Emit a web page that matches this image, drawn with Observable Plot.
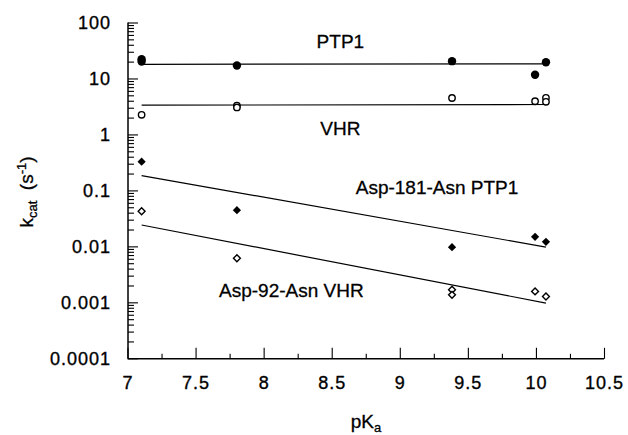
<!DOCTYPE html>
<html><head><meta charset="utf-8">
<script src="https://cdn.jsdelivr.net/npm/d3@7"></script>
<script src="https://cdn.jsdelivr.net/npm/@observablehq/plot@0.6"></script>
<style>
html,body{margin:0;padding:0;background:#fff;}
#chart svg{display:block;}
</style></head><body><div id="chart"></div>
<script>
// PTP1 (filled circles)
const ptp1X = [7.10, 7.10, 7.80, 9.38, 9.99, 10.07];
const ptp1K = [22.5, 20.5, 17.4, 20.8, 11.9, 19.9];
// VHR (open circles)
const vhrX = [7.10, 7.80, 7.80, 9.38, 9.99, 10.07, 10.07];
const vhrK = [2.29, 3.35, 3.10, 4.57, 4.0, 4.6, 3.9];
// Asp-181-Asn PTP1 (filled diamonds)
const d181X = [7.10, 7.80, 9.38, 9.99, 10.07];
const d181K = [0.333, 0.0452, 0.00986, 0.0151, 0.0123];
// Asp-92-Asn VHR (open diamonds)
const d92X = [7.10, 7.80, 9.38, 9.38, 9.99, 10.07];
const d92K = [0.0433, 0.00625, 0.00171, 0.00139, 0.00160, 0.00130];
// fitted lines (endpoints)
const fitNames = ["PTP1", "VHR", "Asp-181-Asn PTP1", "Asp-92-Asn VHR"];
const fitX1 = [7.10, 7.10, 7.10, 7.10];
const fitK1 = [18.3, 3.4, 0.188, 0.0246];
const fitX2 = [10.07, 10.07, 10.07, 10.07];
const fitK2 = [18.6, 3.5, 0.0099, 0.00099];
// in-plot labels
const labelText = ["PTP1", "VHR", "Asp-181-Asn PTP1", "Asp-92-Asn VHR"];
const labelX = [8.56, 8.56, 9.27, 8.20];
const labelK = [45.4, 1.29, 0.115, 0.00166];
// ticks
const xTicks = [7, 7.5, 8, 8.5, 9, 9.5, 10, 10.5];
const xTickLabels = ["7", "7.5", "8", "8.5", "9", "9.5", "10", "10.5"];
const xMinorTicks = [7.25, 7.75, 8.25, 8.75, 9.25, 9.75, 10.25];
const yTicks = [0.0001, 0.001, 0.01, 0.1, 1, 10, 100];
const yTickLabels = ["0.0001", "0.001", "0.01", "0.1", "1", "10", "100"];
const yMinorTicks = d3.scaleLog().domain([1e-4, 100]).ticks().filter(v => !yTicks.some(t => Math.abs(t - v) / t < 1e-6));

const pts = (X, K) => X.map((x, i) => ({x, k: K[i]}));
const fits = fitNames.map((n, i) => ({n, x1: fitX1[i], k1: fitK1[i], x2: fitX2[i], k2: fitK2[i]}));
const labels = labelText.map((t, i) => ({t, x: labelX[i], k: labelK[i]}));

const font = "'Liberation Sans', Arial, Helvetica, sans-serif";
const W = 628, H = 435, mL = 127.5, mR = 24, mT = 22.5, mB = 76.7;
const xDomain = [7, 10.5], yDomain = [1e-4, 100];

// same mappings as the Plot scales, used only to express tick lengths (px) in data units
const px = d3.scaleLinear().domain(xDomain).range([mL, W - mR]);
const py = d3.scaleLog().domain(yDomain).range([H - mB, mT]);
const xTickEnd = (len) => px.invert(mL + len);
const yTickEnd = (len) => py.invert(H - mB - len);
const xTickSegs = [
  ...xTicks.map(v => ({x: v, k1: yDomain[0], k2: yTickEnd(11)})),
  ...xMinorTicks.map(v => ({x: v, k1: yDomain[0], k2: yTickEnd(5)}))
];
const yTickSegs = [
  ...yTicks.map(v => ({k: v, x1: xDomain[0], x2: xTickEnd(10)})),
  ...yMinorTicks.map(v => ({k: v, x1: xDomain[0], x2: xTickEnd(6)}))
];

const chart = Plot.plot({
  width: W,
  height: H,
  marginLeft: mL,
  marginRight: mR,
  marginTop: mT,
  marginBottom: mB,
  style: {fontFamily: font, color: "black", background: "white"},
  x: {domain: xDomain, label: null, axis: null},
  y: {type: "log", domain: yDomain, label: null, axis: null},
  marks: [
    // inward tick marks
    Plot.link(xTickSegs, {x1: "x", x2: "x", y1: "k1", y2: "k2", stroke: "black", strokeWidth: 1.1}),
    Plot.link(yTickSegs, {x1: "x1", x2: "x2", y1: "k", y2: "k", stroke: "black", strokeWidth: 1.1}),
    // tick labels
    Plot.text(xTicks, {x: d => d, text: (d, i) => xTickLabels[i], frameAnchor: "bottom", lineAnchor: "top",
      dy: 17, fontSize: 18, fill: "black", stroke: "black", strokeWidth: 0.35, className: "ticklabel"}),
    Plot.text(yTicks, {y: d => d, text: (d, i) => yTickLabels[i], frameAnchor: "left", textAnchor: "end",
      dx: -17, fontSize: 18, fill: "black", stroke: "black", strokeWidth: 0.35, className: "ticklabel"}),
    // axis lines
    Plot.ruleX([7], {strokeWidth: 1.5}),
    Plot.ruleY([1e-4], {strokeWidth: 1.5}),
    // fitted lines
    Plot.link(fits, {x1: "x1", y1: "k1", x2: "x2", y2: "k2", stroke: "black", strokeWidth: 1.2}),
    // data
    Plot.dot(pts(ptp1X, ptp1K), {x: "x", y: "k", r: 4.2, fill: "black"}),
    Plot.dot(pts(vhrX, vhrK), {x: "x", y: "k", r: 3.2, fill: "white", stroke: "black", strokeWidth: 1.4}),
    Plot.dot(pts(d181X, d181K), {x: "x", y: "k", r: 3.7, symbol: "diamond2", fill: "black"}),
    Plot.dot(pts(d92X, d92K), {x: "x", y: "k", r: 3.1, symbol: "diamond2", fill: "white", stroke: "black", strokeWidth: 1.4}),
    // labels
    Plot.text(labels, {x: "x", y: "k", text: "t", fontSize: 19, textAnchor: "middle", lineAnchor: "middle",
      fill: "black", stroke: "black", strokeWidth: 0.3})
  ]
});

document.getElementById("chart").appendChild(chart);

const svg = d3.select(chart);
svg.selectAll(".ticklabel").style("letter-spacing", "1px");

// axis titles with sub/superscripts
const yt = svg.append("text")
  .attr("transform", "translate(33,192) rotate(-90)")
  .attr("text-anchor", "middle")
  .attr("font-family", font).attr("font-size", 19).attr("fill", "black")
  .attr("stroke", "black").attr("stroke-width", 0.3);
yt.append("tspan").text("k");
yt.append("tspan").attr("font-size", 13).attr("dy", 4).text("cat");
yt.append("tspan").attr("dy", -4).text("\u00a0\u00a0(s");
yt.append("tspan").attr("font-size", 13).attr("dy", -7).text("-1");
yt.append("tspan").attr("dy", 7).text(")");

const xt = svg.append("text")
  .attr("x", 366).attr("y", 428)
  .attr("text-anchor", "middle")
  .attr("font-family", font).attr("font-size", 19).attr("fill", "black")
  .attr("stroke", "black").attr("stroke-width", 0.3);
xt.append("tspan").text("pK");
xt.append("tspan").attr("font-size", 13).attr("dy", 4).text("a");
</script>
</body></html>
